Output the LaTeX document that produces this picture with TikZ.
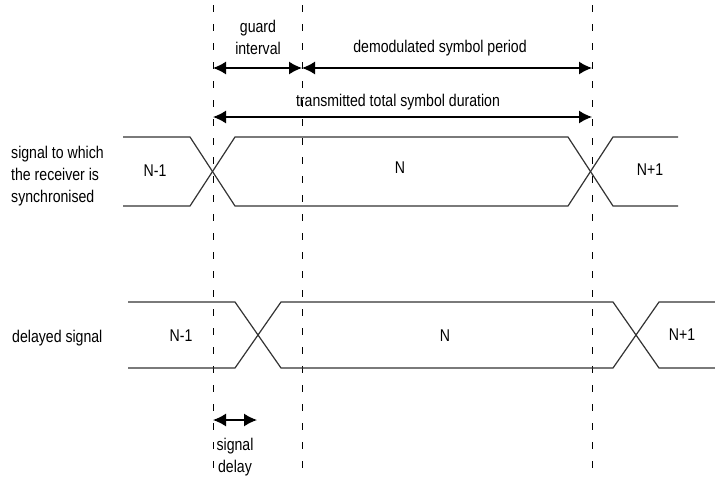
\documentclass[tikz,border=0pt]{standalone}
\usepackage{fontspec}
\setmainfont{Liberation Sans}[FakeStretch=0.83]
\usetikzlibrary{arrows.meta}
\begin{document}
\begin{tikzpicture}[x=1pt,y=-1pt,
  sig/.style={line width=1.2pt,draw=black!80},
  guide/.style={line width=1pt,dash pattern=on 7pt off 12pt},
  dim/.style={line width=1.4pt,{Latex[length=13pt,width=13pt]}-{Latex[length=13pt,width=13pt]}},
  lbl/.style={font=\fontsize{17}{22}\selectfont,inner sep=0pt},
  lbll/.style={lbl,align=left,anchor=west},
  lblc/.style={lbl,align=center}]
\useasboundingbox (0,0) rectangle (715,482);
% dashed guides
\coordinate (g1t) at (213,5); \coordinate (g1b) at (213,478);
\coordinate (g2t) at (302,5); \coordinate (g2b) at (302,478);
\coordinate (g3t) at (592,5); \coordinate (g3b) at (592,478);
\draw[guide] (g1t) -- (g1b);
\draw[guide] (g2t) -- (g2b);
\draw[guide] (g3t) -- (g3b);
% dimension arrows
\coordinate (a1) at (213,68); \coordinate (a2) at (302,68); \coordinate (a3) at (592,68);
\coordinate (b1) at (213,117); \coordinate (b2) at (592,117);
\draw[dim] (a1) -- (a2);
\draw[dim] (a2) -- (a3);
\draw[dim] (b1) -- (b2);
\node[lblc] (guard) at (258,37) {guard\\interval};
\node[lblc] (demod) at (440,48) {demodulated symbol period};
\node[lblc] (total) at (398,102) {transmitted total symbol duration};
% synchronised signal
\draw[sig] (123,137) -- (190,137) -- (235,206) -- (568,206) -- (613,137) -- (678,137);
\draw[sig] (123,206) -- (190,206) -- (235,137) -- (568,137) -- (613,206) -- (678,206);
\node[lbll] (sync) at (11,176) {signal to which\\the receiver is\\synchronised};
\node[lblc] (s1) at (155,171) {N-1};
\node[lblc] (s2) at (400,168) {N};
\node[lblc] (s3) at (650,170) {N+1};
% delayed signal
\draw[sig] (128,302) -- (235,302) -- (281,368) -- (613,368) -- (659,302) -- (715,302);
\draw[sig] (128,368) -- (235,368) -- (281,302) -- (613,302) -- (659,368) -- (715,368);
\node[lbll] (del) at (12,338) {delayed signal};
\node[lblc] (d1) at (181,336) {N-1};
\node[lblc] (d2) at (445,336) {N};
\node[lblc] (d3) at (682,335) {N+1};
% signal delay
\coordinate (c1) at (213,420); \coordinate (c2) at (257,420);
\draw[dim] (c1) -- (c2);
\node[lblc] (sd) at (235,457) {signal\\delay};
\end{tikzpicture}
\end{document}
